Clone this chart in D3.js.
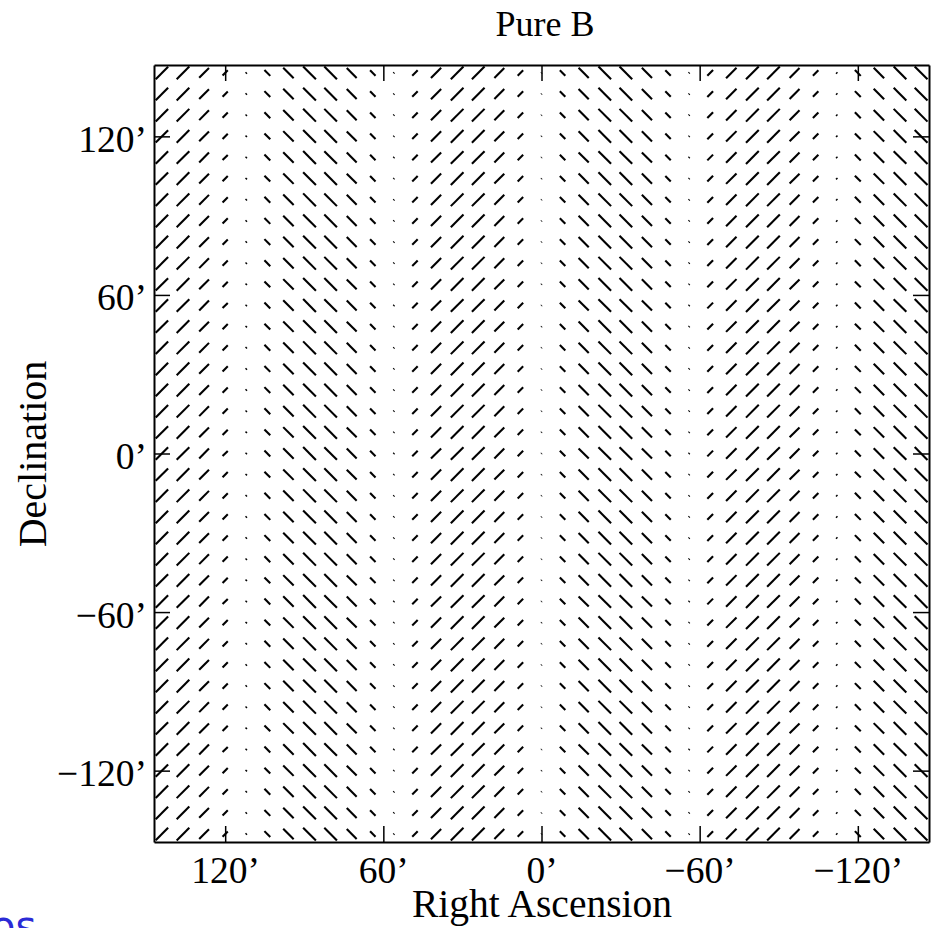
<!DOCTYPE html>
<html>
<head>
<meta charset="utf-8">
<script src="https://cdn.jsdelivr.net/npm/d3@7"></script>
<style>
  body { margin: 0; background: #fff; }
  svg text { font-family: "Liberation Serif", "Times New Roman", serif; }
</style>
</head>
<body>
<svg id="chart" width="932" height="928"></svg>
<script>
// grid positions (arcmin)
var colRA  = [144, 136, 128, 120, 112, 104, 96, 88, 80, 72, 64, 56, 48, 40, 32, 24, 16, 8, 0,
              -8, -16, -24, -32, -40, -48, -56, -64, -72, -80, -88, -96, -104, -112, -120, -128, -136, -144];
var rowDec = [144, 136, 128, 120, 112, 104, 96, 88, 80, 72, 64, 56, 48, 40, 32, 24, 16, 8, 0,
              -8, -16, -24, -32, -40, -48, -56, -64, -72, -80, -88, -96, -104, -112, -120, -128, -136, -144];
// polarization per column (+ = "/", - = "\"), same on every row
var colU = [0.95, 0.97, 0.75, 0.40, 0.08, -0.45, -0.80, -0.98, -0.97, -0.76, -0.42, 0.06,
            0.42, 0.78, 0.97, 0.97, 0.76, 0.42, 0.04, -0.42, -0.78, -0.97, -0.97, -0.78, -0.42,
            0.06, 0.44, 0.80, 0.98, 0.97, 0.76, 0.42, -0.08, -0.45, -0.80, -0.97, -0.98];
var tickVals = [120, 60, 0, -60, -120];

(function() {
  var mLeft = 154, mRight = 929, mTop = 65, mBottom = 842;
  var svg = d3.select("#chart");

  var x = d3.scaleLinear().domain([147, -147]).range([mLeft, mRight]);
  var y = d3.scaleLinear().domain([-147, 147]).range([mBottom, mTop]);
  var len = d3.scaleLinear().domain([0, 1]).range([0, 7]);   // arcmin

  var fmt = function(d) { return (d < 0 ? "\u2212" : "") + Math.abs(d) + "\u2019"; };

  // build cells
  var cells = [];
  rowDec.forEach(function(dec) {
    colRA.forEach(function(ra, i) {
      cells.push({ra: ra, dec: dec, u: colU[i]});
    });
  });

  var half = function(d) { return len(Math.abs(d.u)) / 2 * Math.SQRT1_2; };

  svg.append("g").selectAll("line")
    .data(cells)
    .enter()
    .append("line")
    .attr("x1", function(d) { return x(d.ra + half(d)); })
    .attr("y1", function(d) { return y(d.dec - Math.sign(d.u) * half(d)); })
    .attr("x2", function(d) { return x(d.ra - half(d)); })
    .attr("y2", function(d) { return y(d.dec + Math.sign(d.u) * half(d)); })
    .style("stroke", "#000")
    .style("stroke-width", 2.1);

  // axes, ticks inward on all sides
  function styleAxis(g) {
    g.select(".domain").style("stroke", "#000").style("stroke-width", 2);
    g.selectAll(".tick line").style("stroke", "#000").style("stroke-width", 1.5);
    g.selectAll(".tick text").style("font-size", "37.5px").style("fill", "#000")
      .style("font-family", '"Liberation Serif", "Times New Roman", serif');
  }

  svg.append("g")
    .attr("transform", "translate(0," + mBottom + ")")
    .call(d3.axisBottom(x).tickValues(tickVals).tickFormat(fmt).tickSize(-16).tickSizeOuter(0).tickPadding(14))
    .call(styleAxis);

  svg.append("g")
    .attr("transform", "translate(0," + mTop + ")")
    .call(d3.axisTop(x).tickValues(tickVals).tickFormat("").tickSize(-16).tickSizeOuter(0))
    .call(styleAxis);

  svg.append("g")
    .attr("transform", "translate(" + mLeft + ",0)")
    .call(d3.axisLeft(y).tickValues(tickVals).tickFormat(fmt).tickSize(-16).tickSizeOuter(0).tickPadding(7))
    .call(styleAxis)
    .selectAll(".tick text").attr("dy", "0.4em");

  svg.append("g")
    .attr("transform", "translate(" + mRight + ",0)")
    .call(d3.axisRight(y).tickValues(tickVals).tickFormat("").tickSize(-16).tickSizeOuter(0))
    .call(styleAxis);

  // labels
  svg.append("text")
    .text("Pure B")
    .attr("x", 545).attr("y", 36)
    .style("font-size", "36px")
    .style("text-anchor", "middle");

  svg.append("text")
    .text("Right Ascension")
    .attr("x", 542).attr("y", 917)
    .style("font-size", "39.5px")
    .style("text-anchor", "middle");

  svg.append("text")
    .text("Declination")
    .attr("transform", "translate(46,454) rotate(-90)")
    .style("font-size", "40px")
    .style("text-anchor", "middle");

  // cut-off fragment at lower left
  svg.append("text")
    .text("os")
    .attr("x", -9).attr("y", 940)
    .style("font-family", '"DejaVu Sans", sans-serif')
    .style("font-size", "40px")
    .style("fill", "#2b2bd6");
})();
</script>
</body>
</html>
